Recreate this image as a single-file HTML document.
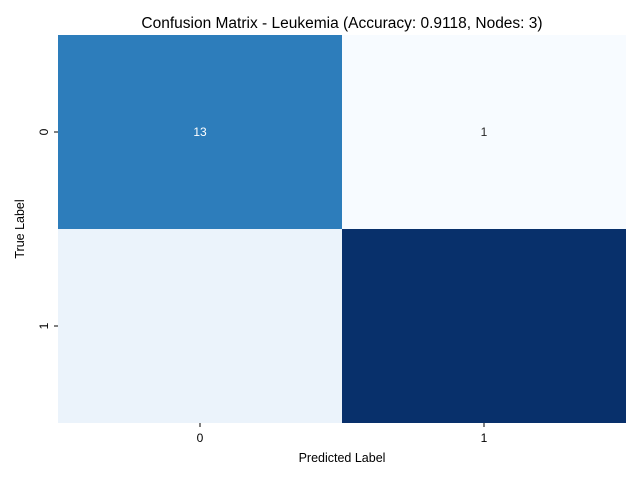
<!DOCTYPE html>
<html><head><meta charset="utf-8"><style>
body{margin:0;background:#fff;}
svg text{font-family:"Liberation Sans","DejaVu Sans",sans-serif;}
</style></head><body>
<svg id="chart" width="640" height="480" xmlns="http://www.w3.org/2000/svg">
<rect width="640" height="480" fill="#fff"/>
<text x="342" y="28" font-size="15.5" text-anchor="middle">Confusion Matrix - Leukemia (Accuracy: 0.9118, Nodes: 3)</text>
<g id="cells"></g>
<g id="axes"></g>
<text x="342" y="462" font-size="12.5" text-anchor="middle">Predicted Label</text>
<text x="24" y="229" font-size="12.5" text-anchor="middle" transform="rotate(-90 24 229)">True Label</text>
</svg>
<script>
const xCategories = ["0","1"];
const yCategories = ["0","1"];
const values = [[13,1],[2,18]];
const showLabel = [[true,true],[false,false]];

const L=58,R=626,T=35,B=423;
const cw=(R-L)/xCategories.length, ch=(B-T)/yCategories.length;
const xPos=i=>L+i*cw, yPos=j=>T+j*ch;
const flat=values.flat(), vmin=Math.min(...flat), vmax=Math.max(...flat);
const stops=[[247,251,255],[222,235,247],[198,219,239],[158,202,225],[107,174,214],[66,146,198],[33,113,181],[8,81,156],[8,48,107]];
function blues(t){t=Math.max(0,Math.min(1,t))*(stops.length-1);const i=Math.min(Math.floor(t),stops.length-2),f=t-i;
 const c=stops[i].map((v,k)=>Math.round(v+(stops[i+1][k]-v)*f));return [`rgb(${c.join(',')})`,(0.299*c[0]+0.587*c[1]+0.114*c[2])<128];}
const ns="http://www.w3.org/2000/svg";
const cells=document.getElementById('cells'), axes=document.getElementById('axes');
yCategories.forEach((yc,j)=>{xCategories.forEach((xc,i)=>{
 const v=values[j][i];const [col,dark]=blues((v-vmin)/(vmax-vmin));
 const r=document.createElementNS(ns,'rect');
 r.setAttribute('x',xPos(i));r.setAttribute('y',yPos(j));r.setAttribute('width',cw);r.setAttribute('height',ch);r.setAttribute('fill',col);
 
 
 cells.appendChild(r);
 if(showLabel[j][i]){const t=document.createElementNS(ns,'text');
 t.setAttribute('x',xPos(i)+cw/2);t.setAttribute('y',yPos(j)+ch/2+4);t.setAttribute('font-size','12');t.setAttribute('text-anchor','middle');
 t.setAttribute('fill',dark?'#fff':'#262626');t.textContent=v;
 
 
 cells.appendChild(t);}
});});
xCategories.forEach((c,i)=>{const x=xPos(i)+cw/2;
 const l=document.createElementNS(ns,'line');l.setAttribute('x1',x);l.setAttribute('x2',x);l.setAttribute('y1',B);l.setAttribute('y2',B+4);l.setAttribute('stroke','#000');
 
 
 axes.appendChild(l);
 const t=document.createElementNS(ns,'text');t.setAttribute('x',x);t.setAttribute('y',B+19);t.setAttribute('font-size','12');t.setAttribute('text-anchor','middle');t.textContent=c;
 
 
 axes.appendChild(t);});
yCategories.forEach((c,j)=>{const y=yPos(j)+ch/2;
 const l=document.createElementNS(ns,'line');l.setAttribute('x1',L-4);l.setAttribute('x2',L);l.setAttribute('y1',y);l.setAttribute('y2',y);l.setAttribute('stroke','#000');
 
 
 axes.appendChild(l);
 const t=document.createElementNS(ns,'text');t.setAttribute('x',L-10);t.setAttribute('y',y);t.setAttribute('font-size','12');t.setAttribute('text-anchor','middle');
 t.setAttribute('transform',`rotate(-90 ${L-10} ${y})`);t.textContent=c;
 
 
 axes.appendChild(t);});
</script>
</body></html>
